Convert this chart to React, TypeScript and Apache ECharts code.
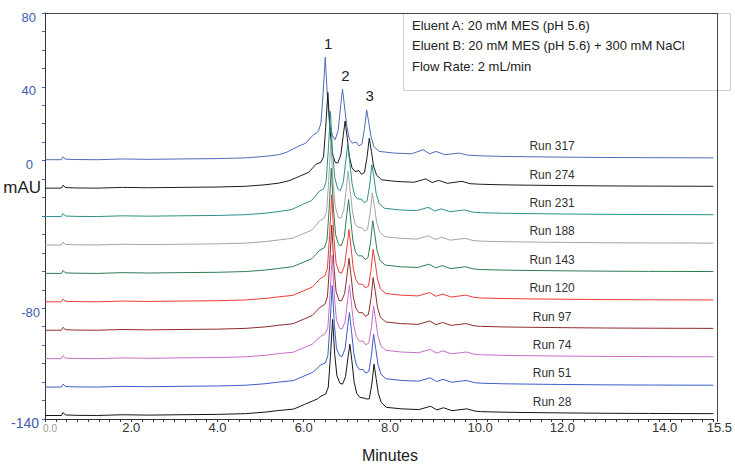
import React, { useEffect, useRef } from 'react';
import * as echarts from 'echarts';

const FONT = '"Liberation Sans", Arial, sans-serif';

const runNames = ['Run 317', 'Run 274', 'Run 231', 'Run 188', 'Run 143', 'Run 120', 'Run 97', 'Run 74', 'Run 51', 'Run 28'];
const runColors = ['#4f6bb8', '#1c1c1c', '#2b9088', '#a5a5a5', '#2f7d52', '#ee3a3a', '#8f2b2b', '#c56ec8', '#3b5ec6', '#151515'];
const runOffsets = [0.5, -14.9, -30.3, -45.7, -61.1, -76.5, -91.9, -107.3, -122.7, -138.1];

// shared baseline before and after the peak region (mAU above each run's baseline)
const preTimes = [0, 0.38, 0.42, 0.47, 0.7, 1.2, 1.8, 2.4, 3.1, 4.0, 4.65, 5.1, 5.42];
const preValues = [0, 0, 1.6, 0.3, 0.1, 0, 0.4, 0.2, 0.4, 0.6, 1.0, 1.8, 2.7];
const postTimes = [10.1, 10.6, 11.2, 12, 13, 14, 15.5];
const postValues = [2.1, 1.8, 1.6, 1.4, 1.2, 1.1, 1.0];

// peak region, per run
const times317 = [5.60, 5.85, 6.05, 6.15, 6.23, 6.34, 6.40, 6.45, 6.50, 6.55, 6.60, 6.67, 6.73, 6.80, 6.86, 6.90, 6.95, 7.00, 7.06, 7.13, 7.22, 7.28, 7.35, 7.41, 7.46, 7.51, 7.56, 7.63, 7.75, 8.10, 8.50, 8.77, 8.92, 9.07, 9.27, 9.61, 9.80];
const values317 = [4, 7, 9, 11.7, 13.5, 15.3, 20, 36, 55.5, 34, 19, 13, 10.8, 16, 30, 38.2, 28, 18, 11, 9, 9.5, 7.5, 8.5, 17, 27, 20, 12.6, 7, 4.5, 3.6, 3.2, 5.4, 3.2, 4.5, 2.7, 3.6, 2.5];
const times274 = [5.66, 5.91, 6.11, 6.21, 6.29, 6.40, 6.46, 6.51, 6.56, 6.61, 6.66, 6.73, 6.79, 6.86, 6.92, 6.96, 7.01, 7.06, 7.12, 7.19, 7.28, 7.34, 7.41, 7.47, 7.52, 7.57, 7.62, 7.69, 7.81, 8.16, 8.56, 8.83, 8.98, 9.13, 9.33, 9.67, 9.86];
const values274 = [4, 6.5, 8.5, 11, 13, 14, 17, 33, 51.8, 32, 19, 14, 13.6, 18, 29, 36.4, 27, 17, 11, 9, 9.5, 7.5, 8.5, 17, 27, 20, 12, 7, 4.5, 3.6, 3.2, 5, 3, 4.2, 2.6, 3.7, 2.4];
const times231 = [5.72, 5.97, 6.17, 6.27, 6.35, 6.46, 6.52, 6.57, 6.62, 6.67, 6.72, 6.79, 6.85, 6.92, 6.98, 7.02, 7.07, 7.12, 7.18, 7.25, 7.34, 7.40, 7.47, 7.53, 7.58, 7.63, 7.68, 7.75, 7.87, 8.22, 8.62, 8.89, 9.04, 9.19, 9.39, 9.73, 9.92];
const values231 = [3.8, 6.5, 8.5, 11, 13.5, 15, 19, 36, 57, 35, 21, 15, 14, 19, 31, 39, 29, 18, 11.5, 9.5, 9.5, 7.5, 8.5, 17, 28, 21, 12.5, 7, 4.5, 3.6, 3.2, 5, 3, 4.2, 2.6, 3.6, 2.4];
const times188 = [5.73, 5.98, 6.18, 6.28, 6.36, 6.47, 6.53, 6.58, 6.63, 6.68, 6.73, 6.80, 6.86, 6.93, 6.99, 7.03, 7.08, 7.13, 7.19, 7.26, 7.35, 7.41, 7.48, 7.54, 7.59, 7.64, 7.69, 7.76, 7.88, 8.23, 8.63, 8.90, 9.05, 9.20, 9.40, 9.74, 9.93];
const values188 = [3.6, 6, 8, 10.5, 13, 14.5, 18, 35, 56, 34, 21, 15, 14.5, 19, 31, 40, 29, 18, 11.5, 9.5, 9.5, 7.5, 8.5, 17, 28.2, 21, 12.5, 7, 4.5, 3.6, 3.2, 5, 3, 4.2, 2.6, 3.6, 2.4];
const times143 = [5.74, 5.99, 6.19, 6.29, 6.37, 6.48, 6.54, 6.59, 6.64, 6.69, 6.74, 6.81, 6.87, 6.94, 7.00, 7.04, 7.09, 7.14, 7.20, 7.27, 7.36, 7.42, 7.49, 7.55, 7.60, 7.65, 7.70, 7.77, 7.89, 8.24, 8.64, 8.91, 9.06, 9.21, 9.41, 9.75, 9.94];
const values143 = [3.6, 6, 8, 10.5, 12.5, 14, 18, 35, 57, 35, 21, 15.5, 15, 19.5, 32, 40, 29, 18, 11.5, 9.5, 9.5, 7.5, 8.5, 17, 28.5, 21, 12.5, 7, 4.5, 3.6, 3.2, 5, 3, 4.2, 2.6, 3.6, 2.4];
const times120 = [5.75, 6.00, 6.20, 6.30, 6.38, 6.49, 6.55, 6.60, 6.65, 6.70, 6.75, 6.82, 6.88, 6.95, 7.01, 7.05, 7.10, 7.15, 7.21, 7.28, 7.37, 7.43, 7.50, 7.56, 7.61, 7.66, 7.71, 7.78, 7.90, 8.25, 8.65, 8.92, 9.07, 9.22, 9.42, 9.76, 9.95];
const values120 = [3.5, 6, 8, 10.5, 12.5, 14, 18, 36, 58, 35, 21, 16, 15.5, 20, 31, 39.2, 29, 18, 12, 9.5, 9.5, 7.5, 8.5, 17, 28.4, 21, 12.5, 7, 4.5, 3.6, 3.2, 5, 3, 4.2, 2.6, 3.6, 2.4];
const times97 = [5.75, 6.00, 6.20, 6.30, 6.38, 6.49, 6.55, 6.60, 6.65, 6.70, 6.75, 6.82, 6.88, 6.95, 7.01, 7.05, 7.10, 7.15, 7.21, 7.28, 7.37, 7.43, 7.50, 7.56, 7.61, 7.66, 7.71, 7.78, 7.90, 8.25, 8.65, 8.92, 9.07, 9.22, 9.42, 9.76, 9.95];
const values97 = [3.5, 6, 8, 10.5, 12.5, 14, 18, 35, 57, 35, 21, 16, 16, 20, 31, 39, 29, 18, 12, 9.5, 9.5, 7.5, 8.5, 17, 28.5, 21, 12.5, 7, 4.5, 3.6, 3.2, 5, 3, 4.2, 2.6, 3.6, 2.4];
const times74 = [5.76, 6.01, 6.21, 6.31, 6.39, 6.50, 6.56, 6.61, 6.66, 6.71, 6.76, 6.83, 6.89, 6.96, 7.02, 7.06, 7.11, 7.16, 7.22, 7.29, 7.38, 7.44, 7.51, 7.57, 7.62, 7.67, 7.72, 7.79, 7.91, 8.26, 8.66, 8.93, 9.08, 9.23, 9.43, 9.77, 9.96];
const values74 = [3.5, 6, 8, 10.5, 12, 13.5, 17, 34, 56, 34, 21, 16.5, 16, 20, 32, 40, 29, 18, 12, 9.5, 9.5, 7.5, 8.5, 17, 28.5, 21, 12.5, 7, 4.5, 3.6, 3.2, 5, 3, 4.2, 2.6, 3.6, 2.4];
const times51 = [5.76, 6.01, 6.21, 6.31, 6.39, 6.50, 6.56, 6.61, 6.66, 6.71, 6.76, 6.83, 6.89, 6.96, 7.02, 7.06, 7.11, 7.16, 7.22, 7.29, 7.38, 7.44, 7.51, 7.57, 7.62, 7.67, 7.72, 7.79, 7.91, 8.26, 8.66, 8.93, 9.08, 9.23, 9.43, 9.77, 9.96];
const values51 = [3.5, 6, 8, 10, 12, 13, 17, 34, 55, 34, 21, 17, 16.5, 21, 33, 40.4, 30, 18.5, 12, 9.5, 9.5, 7.5, 8.5, 17, 28.6, 21, 12.5, 7, 4.5, 3.6, 3.2, 5, 3, 4.2, 2.6, 3.6, 2.4];
const times28 = [5.77, 6.02, 6.22, 6.32, 6.40, 6.51, 6.57, 6.62, 6.67, 6.72, 6.77, 6.84, 6.90, 6.97, 7.03, 7.07, 7.12, 7.17, 7.23, 7.30, 7.39, 7.45, 7.52, 7.58, 7.63, 7.68, 7.73, 7.80, 7.92, 8.27, 8.67, 8.94, 9.09, 9.24, 9.44, 9.78, 9.97];
const values28 = [3.5, 6, 8, 9, 10.5, 11.6, 15.4, 32, 52, 33, 21.5, 17.5, 17, 21, 32, 38.6, 29, 18, 12, 9.8, 9.5, 9, 9, 17, 27.8, 20, 12, 7, 4.4, 3.6, 3.2, 5, 3, 4.2, 2.6, 3.6, 2.4];

const runTimes = [times317, times274, times231, times188, times143, times120, times97, times74, times51, times28];
const runValues = [values317, values274, values231, values188, values143, values120, values97, values74, values51, values28];

const peakLabels = ['1', '2', '3'];
const peakIndices = [8, 15, 24]; // apex points in run 317

const xLabelValues = [0, 2, 4, 6, 8, 10, 12, 14, 15.5];
const xLabelShift: Record<string, number> = { '10': 8, '14': 32, '15.5': 12 };
const yLabelValues = [80, 40, 0, -80, -140];

const legendLines = [
  'Eluent A: 20 mM MES (pH 5.6)',
  'Eluent B: 20 mM MES (pH 5.6) + 300 mM NaCl',
  'Flow Rate: 2 mL/min',
];

const labelTime = 11.76;
const labelBase = 1.4;

export default function App() {
  const ref = useRef<HTMLDivElement>(null);
  useEffect(() => {
    if (!ref.current) return;
    const chart = echarts.init(ref.current, undefined, { renderer: 'svg' });

    const series = runNames.map((name, i) => {
      const off = runOffsets[i];
      const pts: number[][] = [];
      preTimes.forEach((t, k) => pts.push([t, preValues[k] + off]));
      runTimes[i].forEach((t, k) => pts.push([t, runValues[i][k] + off]));
      postTimes.forEach((t, k) => pts.push([t, postValues[k] + off]));
      const mpData: any[] = [
        {
          name,
          coord: [labelTime, off + labelBase],
          label: { offset: [0, -11], fontSize: 12, color: '#333' },
        },
      ];
      if (i === 0) {
        peakIndices.forEach((idx, j) => {
          mpData.push({
            name: peakLabels[j],
            coord: [runTimes[0][idx], runValues[0][idx] + off],
            label: { offset: [3, -14], fontSize: 15, color: '#222' },
          });
        });
      }
      return {
        type: 'line',
        name,
        data: pts,
        showSymbol: false,
        symbol: 'none',
        silent: true,
        z: 2 + i,
        lineStyle: { width: 1, color: runColors[i] },
        itemStyle: { color: runColors[i] },
        markPoint: {
          symbol: 'circle',
          symbolSize: 1,
          silent: true,
          itemStyle: { color: 'rgba(0,0,0,0)' },
          label: { show: true, position: 'inside', formatter: '{b}', fontFamily: FONT },
          data: mpData,
        },
      };
    });

    const yRich: any = {
      a: { fontSize: 13, color: '#3f5bb0', padding: [8, 7, 0, 0], fontFamily: FONT },
      b: { fontSize: 13, color: '#3f5bb0', padding: [8, 10, 0, 0], fontFamily: FONT },
      c: { fontSize: 13, color: '#3f5bb0', padding: [8, 3, 0, 0], fontFamily: FONT },
      d: { fontSize: 14, color: '#3f5bb0', padding: [8, 4, 0, 0], fontFamily: FONT },
    };
    const yStyle: Record<string, string> = { '80': 'a', '40': 'a', '0': 'b', '-80': 'c', '-140': 'd' };

    const option: any = {
      animation: false,
      textStyle: { fontFamily: FONT },
      grid: { left: 45, right: 18, top: 13, bottom: 45, containLabel: false },
      xAxis: {
        type: 'value',
        min: 0,
        max: 15.5,
        interval: 0.25,
        splitLine: { show: false },
        axisLine: { onZero: false, lineStyle: { color: '#333', width: 1 } },
        axisTick: { length: 3, lineStyle: { color: '#333' } },
        axisLabel: {
          margin: 2,
          showMinLabel: true,
          showMaxLabel: true,
          formatter: (v: number) => {
            const hit = xLabelValues.find((x) => Math.abs(x - v) < 1e-6);
            if (hit === undefined) return '';
            if (hit === 0) return '{z|0.0}';
            const key = String(hit);
            const sh = xLabelShift[key] || 0;
            const txt = hit % 1 === 0 ? hit.toFixed(1) : String(hit);
            return sh ? `{p${sh}|${txt}}` : `{n|${txt}}`;
          },
          rich: {
            z: { fontSize: 10, color: '#9a9a9a', fontFamily: FONT, padding: [2, 0, 0, 10] },
            n: { fontSize: 13, color: '#333', fontFamily: FONT },
            p8: { fontSize: 13, color: '#333', fontFamily: FONT, padding: [0, 0, 0, 8] },
            p12: { fontSize: 13, color: '#333', fontFamily: FONT, padding: [0, 0, 0, 12] },
            p32: { fontSize: 13, color: '#333', fontFamily: FONT, padding: [0, 0, 0, 32] },
          },
        },
      },
      yAxis: {
        type: 'value',
        min: -140,
        max: 80,
        interval: 10,
        splitLine: { show: false },
        axisLine: { show: true, onZero: false, lineStyle: { color: '#333', width: 1 } },
        axisTick: { show: true, length: 3, lineStyle: { color: '#4a62b0' } },
        axisLabel: {
          margin: 2,
          showMinLabel: true,
          showMaxLabel: true,
          formatter: (v: number) => {
            const hit = yLabelValues.find((y) => Math.abs(y - v) < 1e-6);
            if (hit === undefined) return '';
            return `{${yStyle[String(hit)]}|${hit}}`;
          },
          rich: yRich,
        },
      },
      graphic: [
        {
          type: 'rect',
          z: 50,
          shape: { x: 403.5, y: 13.5, width: 327, height: 77 },
          style: { fill: '#ffffff', stroke: '#cfcfcf', lineWidth: 1 },
        },
        ...legendLines.map((t, i) => ({
          type: 'text',
          z: 51,
          x: 412,
          y: 25 + i * 20.7,
          style: {
            text: t,
            font: `13px ${FONT}`,
            fill: '#222',
            textAlign: 'left',
            textVerticalAlign: 'middle',
          },
        })),
        {
          type: 'line',
          z: 52,
          shape: { x1: 45, y1: 13.5, x2: 717.5, y2: 13.5 },
          style: { stroke: '#444', lineWidth: 1 },
        },
        {
          type: 'line',
          z: 52,
          shape: { x1: 717.5, y1: 13, x2: 717.5, y2: 422 },
          style: { stroke: '#444', lineWidth: 1 },
        },
        {
          type: 'text',
          z: 52,
          x: 41,
          y: 187,
          style: {
            text: 'mAU',
            font: `17px ${FONT}`,
            fill: '#222',
            textAlign: 'right',
            textVerticalAlign: 'middle',
          },
        },
        {
          type: 'text',
          z: 52,
          x: 390,
          y: 455,
          style: {
            text: 'Minutes',
            font: `16px ${FONT}`,
            fill: '#222',
            textAlign: 'center',
            textVerticalAlign: 'middle',
          },
        },
      ],
      series,
    };

    chart.setOption(option);
    return () => chart.dispose();
  }, []);

  return (
    <div
      ref={ref}
      style={{ position: 'fixed', left: 0, top: 0, width: 735, height: 464, background: '#fff' }}
    />
  );
}
